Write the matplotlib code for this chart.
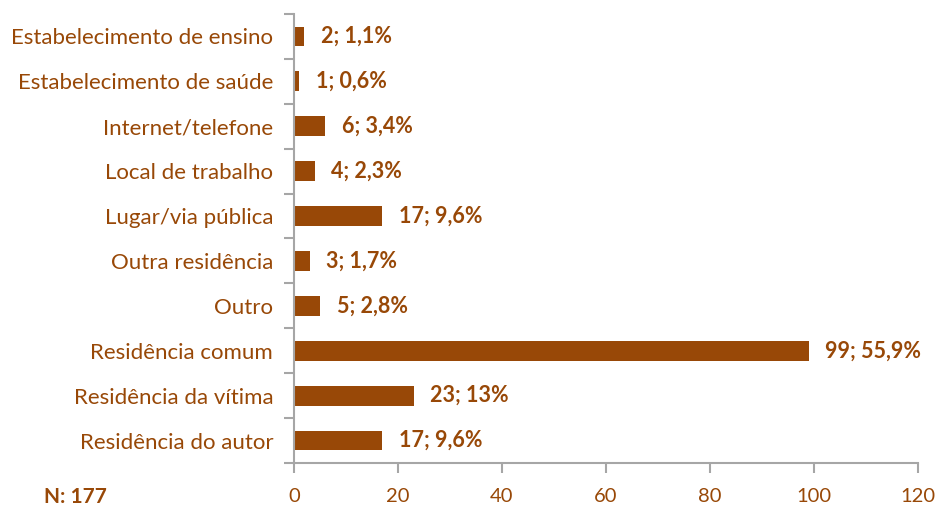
import matplotlib
matplotlib.use("Agg")
import matplotlib.pyplot as plt

categories = ["Estabelecimento de ensino", "Estabelecimento de saúde", "Internet/telefone",
              "Local de trabalho", "Lugar/via pública", "Outra residência", "Outro",
              "Residência comum", "Residência da vítima", "Residência do autor"]
counts = [2, 1, 6, 4, 17, 3, 5, 99, 23, 17]
pct_labels = ["1,1%", "0,6%", "3,4%", "2,3%", "9,6%", "1,7%", "2,8%", "55,9%", "13%", "9,6%"]
xticks = [0, 20, 40, 60, 80, 100, 120]
total_label = "N: 177"

plt.rcParams['font.family'] = ['Lato', 'DejaVu Sans']
color = '#984807'
gray = '#A6A6A6'

fig = plt.figure(figsize=(9.39, 5.07), dpi=100)
ax = fig.add_axes([0.3131, 0.0868, 0.9776 - 0.3131, 0.9724 - 0.0868])

y = list(range(len(categories)))
ax.barh(y, counts, height=0.44, color=color)
ax.set_ylim(len(categories) - 0.5, -0.5)
ax.set_xlim(0, 120)
ax.set_xticks(xticks)
ax.set_xticklabels([str(t) for t in xticks])
ax.set_yticks(y)
ax.set_yticklabels(categories)
ax.set_yticks([i - 0.5 for i in range(len(categories) + 1)], minor=True)

for s in ['top', 'right']:
    ax.spines[s].set_visible(False)
for s in ['left', 'bottom']:
    ax.spines[s].set_color(gray)
    ax.spines[s].set_linewidth(1.5)

ax.tick_params(axis='y', which='major', length=0, pad=15, labelsize=16, labelcolor=color)
ax.tick_params(axis='y', which='minor', length=7, width=1.5, color=gray)
ax.tick_params(axis='x', which='major', length=7, width=1.5, color=gray, labelsize=14.5,
               labelcolor=color, pad=11)

for i, (c, p) in enumerate(zip(counts, pct_labels)):
    ax.annotate(f"{c}; {p}", xy=(c, i), xytext=(12, 0), textcoords='offset points',
                va='center', ha='left', fontsize=15.5, fontweight='bold', color=color)

fig.text(75 / 939, 1 - 497 / 507, total_label, ha='center', va='center', fontsize=15,
         fontweight='bold', color=color)

fig.savefig("out.png", dpi=100)
